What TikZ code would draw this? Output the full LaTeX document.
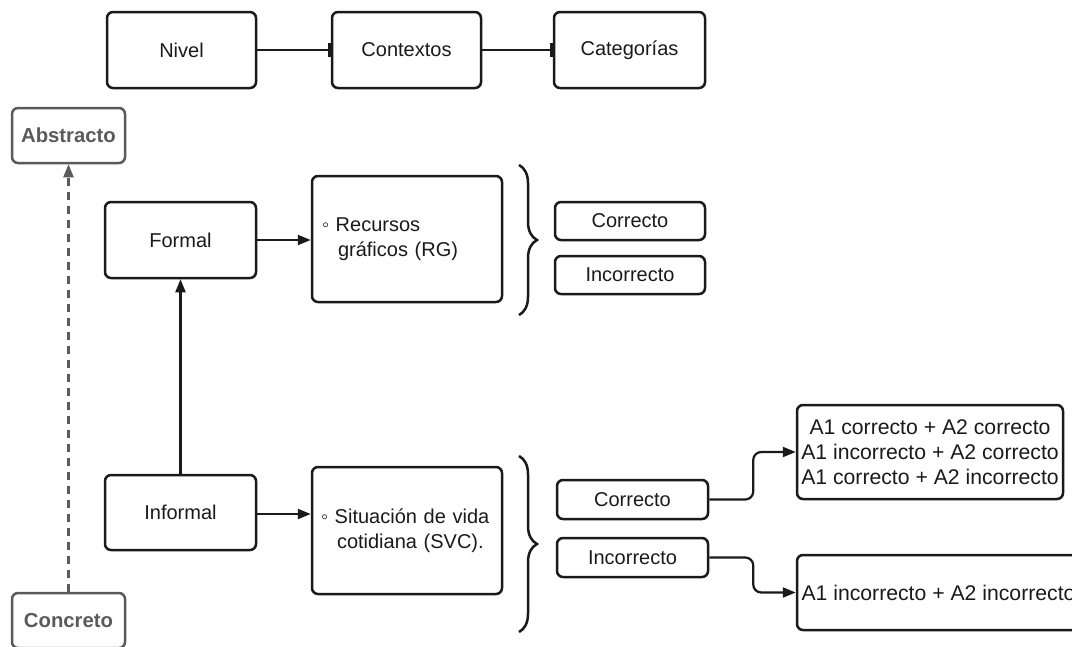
\documentclass[tikz,border=0pt]{standalone}
\usepackage{fontspec}
\setmainfont{Liberation Sans}
\usetikzlibrary{arrows.meta,decorations.pathreplacing}
\definecolor{ink}{HTML}{1A1A1A}
\definecolor{grayink}{HTML}{5A5A5A}
\tikzset{
  box/.style={draw=ink, line width=2.5pt, rounded corners=6pt, text=ink, inner sep=0pt, align=center, font=\fontsize{20}{25}\selectfont},
  graybox/.style={box, draw=grayink, text=grayink, font=\fontsize{20.3}{25}\selectfont\bfseries},
  bigtext/.style={font=\fontsize{21.2}{25}\selectfont},
  conn/.style={draw=ink, line width=2.2pt},
  arr/.style={conn, -{Triangle[length=13pt,width=10pt]}},
  bararr/.style={conn, -{Rectangle[length=3pt,width=14pt]}},
  curly/.style={draw=ink, line width=2.5pt, decorate, decoration={brace, amplitude=18pt}},
}
\begin{document}
\begin{tikzpicture}[x=1pt,y=-1pt]
\useasboundingbox (0,0) rectangle (1072,646);
\clip (0,0) rectangle (1072,646);
\fill[white] (0,0) rectangle (1072,646);

\node[box, minimum width=149pt, minimum height=76pt] (nivel) at (181.5,50) {Nivel};
\node[box, minimum width=149pt, minimum height=76pt] (contextos) at (406.5,50) {Contextos};
\node[box, minimum width=151pt, minimum height=76pt] (categorias) at (629.5,50) {Categorías};

\node[graybox, minimum width=113pt, minimum height=55pt] (abstracto) at (68.5,135.5) {Abstracto};
\node[graybox, minimum width=113pt, minimum height=55pt] (concreto) at (68.5,620.5) {Concreto};

\node[box, minimum width=151pt, minimum height=76pt] (formal) at (180.5,240) {Formal};
\node[box, minimum width=151pt, minimum height=75pt] (informal) at (180.5,512.5) {Informal};

\node[box, minimum width=190pt, minimum height=126pt, text width=170pt, align=left] (rg) at (407,239) {◦ Recursos\\\hspace*{16pt}gráficos (RG)};
\node[box, minimum width=190pt, minimum height=127pt, text width=172pt, align=left] (svc) at (407,530.5) {◦ Situación de vida\\\hspace*{16pt}cotidiana (SVC).};

\node[box, minimum width=150pt, minimum height=38pt] (c1) at (630,221) {Correcto};
\node[box, minimum width=150pt, minimum height=38pt] (i1) at (630,275) {Incorrecto};
\node[box, minimum width=151pt, minimum height=39pt] (c2) at (632.5,499.5) {Correcto};
\node[box, minimum width=151pt, minimum height=39pt] (i2) at (632.5,557.5) {Incorrecto};

\node[box, bigtext, minimum width=266pt, minimum height=94pt] (a1) at (930,452) {A1 correcto + A2 correcto\\A1 incorrecto + A2 correcto\\A1 correcto + A2 incorrecto};
\node[box, bigtext, minimum width=283pt, minimum height=75pt] (a2) at (938.5,592.5) {A1 incorrecto + A2 incorrecto};

\draw[bararr] (nivel.east) -- (contextos.west);
\draw[bararr] (contextos.east) -- (categorias.west);
\draw[conn, draw=grayink, dash pattern=on 8pt off 6pt, -{Triangle[length=13pt,width=10pt]}, color=grayink] (concreto.north) -- (abstracto.south);
\draw[arr] (informal.north) -- (formal.south);
\draw[arr] (formal.east) -- (formal.east -| rg.west);
\draw[arr] (informal.east |- 0,514) -- (svc.west |- 0,514);
\draw[arr, rounded corners=8pt] (c2.east) -- ++(44,0) |- (a1.west);
\draw[arr, rounded corners=8pt] (i2.east) -- ++(44,0) |- (a2.west);

\coordinate (b1t) at (519,165);
\coordinate (b1b) at (519,315);
\coordinate (b2t) at (519,456);
\coordinate (b2b) at (519,632);
\draw[curly] (b1t) -- (b1b);
\draw[curly] (b2t) -- (b2b);
\end{tikzpicture}
\end{document}
